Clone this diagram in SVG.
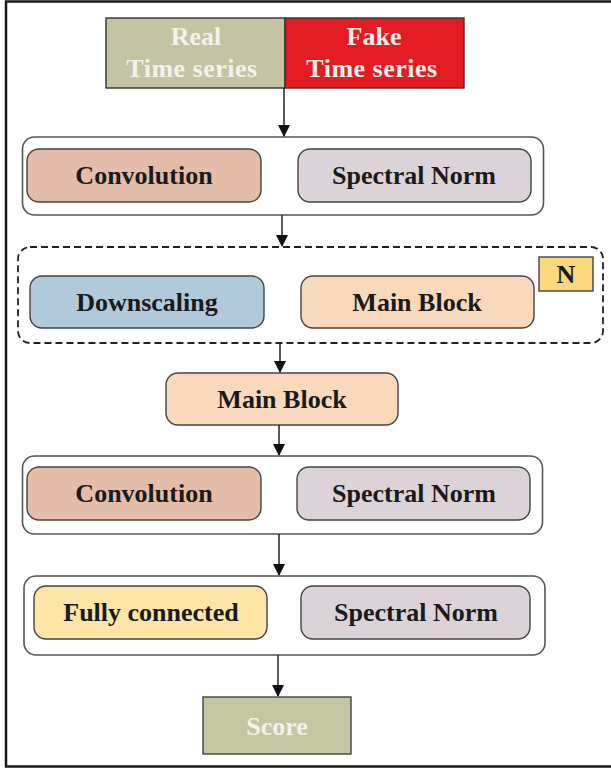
<svg xmlns="http://www.w3.org/2000/svg" width="611" height="770" viewBox="0 0 611 770">
<style>
.lbl{font-family:"Liberation Serif","Times New Roman",serif;font-weight:bold;font-size:26px;fill:#1a1a1a;text-anchor:middle}
.wlbl{font-family:"Liberation Serif","Times New Roman",serif;font-weight:bold;font-size:26px;fill:#f4f1ea;text-anchor:middle}
.cont{fill:#ffffff;stroke:#555555;stroke-width:1.6}
.box{stroke:#444444;stroke-width:1.4}
.conn{stroke:#222222;stroke-width:1.5;fill:none;marker-end:url(#arr)}
</style>
<defs>
<marker id="arr" markerWidth="12" markerHeight="12" refX="11" refY="6" orient="auto" markerUnits="userSpaceOnUse">
<path d="M0,0 L12,6 L0,12 Z" fill="#111111"/>
</marker>
</defs>
<rect x="0" y="0" width="611" height="770" fill="#ffffff"/>
<rect x="6" y="1.5" width="615" height="765" fill="none" stroke="#1a1a1a" stroke-width="2.5"/>

<g id="input">
<rect x="106" y="18" width="179" height="70" fill="#c4c3a4" stroke="#333" stroke-width="1.4"/>
<rect x="285" y="18" width="179" height="70" fill="#e31b23" stroke="#333" stroke-width="1.4"/>
<text class="wlbl" x="196" y="45">Real</text>
<text class="wlbl" x="192" y="77" letter-spacing="0.5">Time series</text>
<text class="wlbl" x="374" y="45">Fake</text>
<text class="wlbl" x="372" y="77" letter-spacing="0.5">Time series</text>
</g>

<g id="block1">
<rect class="cont" x="22.5" y="137" width="521" height="78" rx="12"/>
<rect class="box" x="27" y="149" width="234" height="53" rx="12" fill="#e3bcaa"/>
<text class="lbl" x="144" y="184">Convolution</text>
<rect class="box" x="298" y="149" width="233" height="53" rx="12" fill="#dcd3d9"/>
<text class="lbl" x="414" y="184">Spectral Norm</text>
</g>

<g id="block2">
<rect x="18" y="247" width="585" height="96" rx="12" fill="none" stroke="#222" stroke-width="1.8" stroke-dasharray="7,4"/>
<rect class="box" x="30" y="276" width="234" height="52" rx="12" fill="#b0cadb"/>
<text class="lbl" x="147" y="311">Downscaling</text>
<rect class="box" x="301" y="276" width="233" height="52" rx="12" fill="#f9d9bc"/>
<text class="lbl" x="417" y="311">Main Block</text>
<rect x="539" y="257" width="54" height="34" fill="#fcd77b" stroke="#444" stroke-width="1.4"/>
<text class="lbl" x="566" y="283">N</text>
</g>

<g id="mainblock">
<rect class="box" x="166" y="373" width="232" height="52" rx="12" fill="#f9d9bc"/>
<text class="lbl" x="282" y="408">Main Block</text>
</g>

<g id="block3">
<rect class="cont" x="22.5" y="456" width="520" height="78" rx="12"/>
<rect class="box" x="27" y="467" width="234" height="53" rx="12" fill="#e3bcaa"/>
<text class="lbl" x="144" y="502">Convolution</text>
<rect class="box" x="297" y="467" width="233" height="53" rx="12" fill="#dcd3d9"/>
<text class="lbl" x="414" y="502">Spectral Norm</text>
</g>

<g id="block4">
<rect class="cont" x="24" y="576" width="521" height="79" rx="12"/>
<rect class="box" x="34" y="586" width="233" height="53" rx="12" fill="#fde5a8"/>
<text class="lbl" x="151" y="621">Fully connected</text>
<rect class="box" x="301" y="586" width="229" height="53" rx="12" fill="#dcd3d9"/>
<text class="lbl" x="416" y="621">Spectral Norm</text>
</g>

<g id="score">
<rect x="203" y="697" width="148" height="57" fill="#c4c6a2" stroke="#444" stroke-width="1.4"/>
<text class="wlbl" x="277" y="735">Score</text>
</g>

<g id="connectors">
<line class="conn" x1="284" y1="88" x2="284" y2="136"/>
<line class="conn" x1="282" y1="215" x2="282" y2="246"/>
<line class="conn" x1="280" y1="343" x2="280" y2="372"/>
<line class="conn" x1="279" y1="425" x2="279" y2="455"/>
<line class="conn" x1="279" y1="534" x2="279" y2="575"/>
<line class="conn" x1="278" y1="655" x2="278" y2="696"/>
</g>
</svg>
